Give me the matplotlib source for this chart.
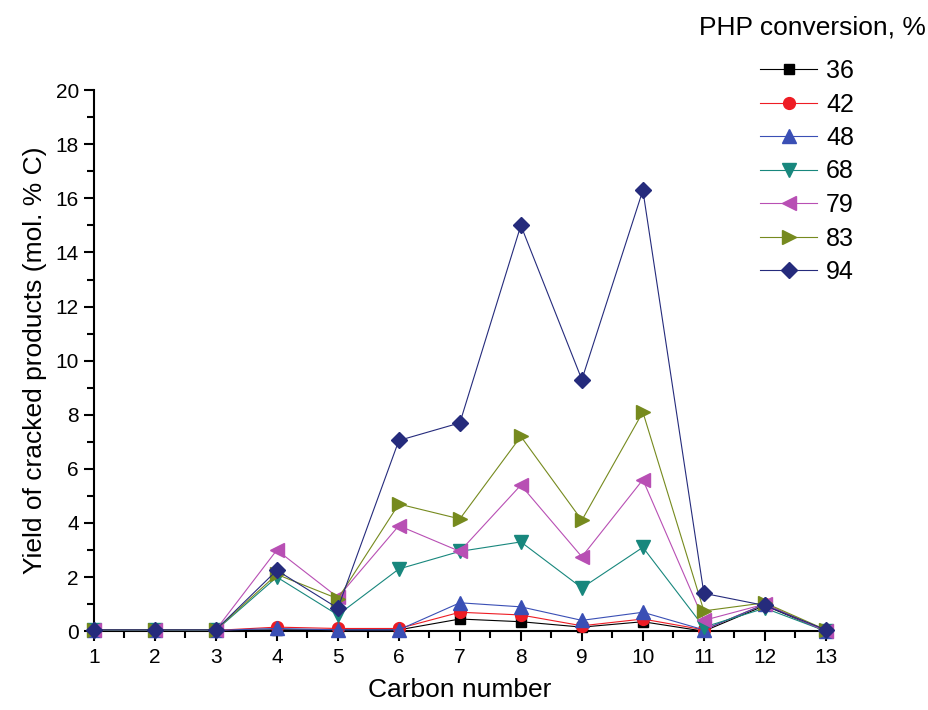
import matplotlib
matplotlib.use("Agg")
import matplotlib.pyplot as plt
from matplotlib.ticker import MultipleLocator

plt.rcParams['font.family'] = ['Liberation Sans', 'DejaVu Sans']

carbon = [1, 2, 3, 4, 5, 6, 7, 8, 9, 10, 11, 12, 13]
labels = ['36', '42', '48', '68', '79', '83', '94']
y36 = [0.03, 0.03, 0.03, 0.05, 0.05, 0.05, 0.45, 0.35, 0.15, 0.35, 0.0, 0.95, 0.0]
y42 = [0.03, 0.03, 0.03, 0.15, 0.1, 0.1, 0.7, 0.6, 0.2, 0.45, 0.05, 1.0, 0.0]
y48 = [0.03, 0.03, 0.03, 0.1, 0.05, 0.05, 1.05, 0.9, 0.4, 0.7, 0.05, 1.0, 0.0]
y68 = [0.03, 0.03, 0.03, 2.0, 0.6, 2.3, 2.95, 3.3, 1.6, 3.1, 0.15, 0.85, 0.0]
y79 = [0.05, 0.05, 0.05, 3.0, 1.25, 3.9, 2.95, 5.4, 2.75, 5.6, 0.4, 1.0, 0.0]
y83 = [0.05, 0.05, 0.05, 2.1, 1.2, 4.7, 4.15, 7.2, 4.1, 8.1, 0.75, 1.05, 0.05]
y94 = [0.05, 0.05, 0.05, 2.25, 0.85, 7.05, 7.7, 15.0, 9.3, 16.3, 1.4, 0.95, 0.05]

series = [y36, y42, y48, y68, y79, y83, y94]
colors = ['#000000', '#ee1c24', '#3a4fb5', '#18877d', '#b84fb4', '#768a1e', '#252b7c']
markers = ['s', 'o', '^', 'v', '<', '>', 'D']
msizes = [7.5, 8.5, 9.5, 9.5, 9.5, 9.5, 8.5]

fig = plt.figure(figsize=(9.29, 7.1), dpi=100)
ax = fig.add_axes([0.101, 0.111, 0.788, 0.762])

for ys, c, m, ms, lab in zip(series, colors, markers, msizes, labels):
    ax.plot(carbon, ys, color=c, marker=m, markersize=ms, linewidth=0.8,
            label=lab, clip_on=False, zorder=3)

ax.set_xlim(1, 13)
ax.set_ylim(0, 20)
ax.xaxis.set_major_locator(MultipleLocator(1))
ax.xaxis.set_minor_locator(MultipleLocator(0.5))
ax.yaxis.set_major_locator(MultipleLocator(2))
ax.yaxis.set_minor_locator(MultipleLocator(1))
for s in ['top', 'right']:
    ax.spines[s].set_visible(False)
for s in ['left', 'bottom']:
    ax.spines[s].set_linewidth(1.5)
ax.tick_params(which='major', direction='out', length=7.2, width=1.5, labelsize=15)
ax.tick_params(which='minor', direction='out', length=5, width=1.5)
ax.tick_params(axis='x', which='major', pad=5)

ax.set_xlabel('Carbon number', fontsize=19, labelpad=8)
ax.set_ylabel('Yield of cracked products (mol. % C)', fontsize=19, labelpad=6)

leg = ax.legend(loc='upper left', bbox_to_anchor=(760 / 929, 1 - 59 / 710),
                bbox_transform=fig.transFigure, frameon=False,
                fontsize=18, handlelength=2.3, labelspacing=0.38, handletextpad=0.35,
                borderaxespad=0, borderpad=0)
fig.text(0.997, 1 - 27 / 710, 'PHP conversion, %', fontsize=19, ha='right', va='center')

fig.savefig('out.png', dpi=100)
